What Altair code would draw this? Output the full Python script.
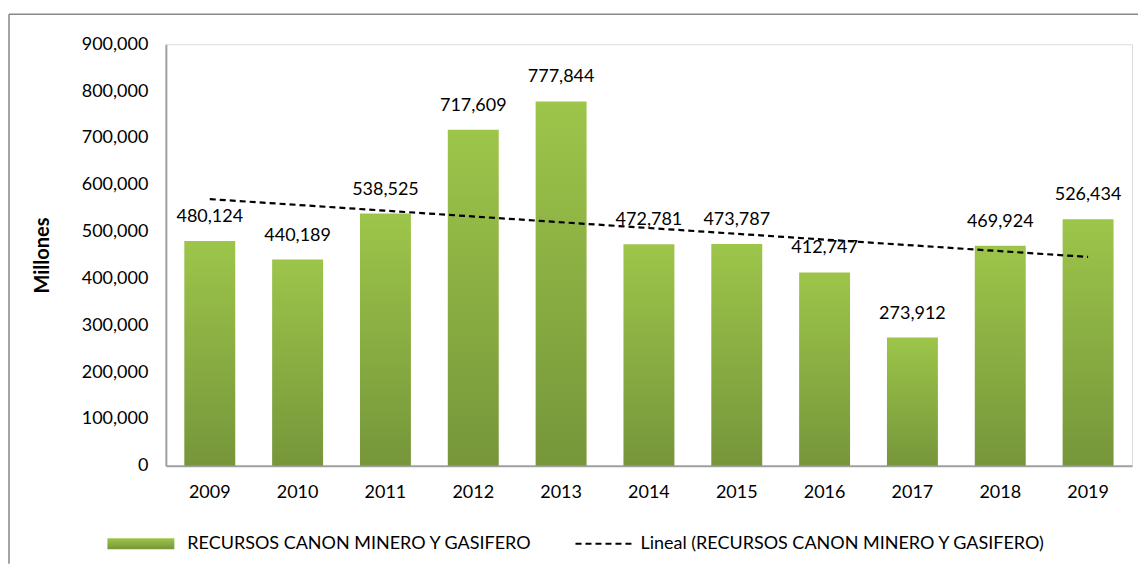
import altair as alt
import pandas as pd

years = ["2009", "2010", "2011", "2012", "2013", "2014", "2015", "2016", "2017", "2018", "2019"]
values = [480124, 440189, 538525, 717609, 777844, 472781, 473787, 412747, 273912, 469924, 526434]
bar_series = "RECURSOS CANON MINERO Y GASIFERO"
trend_series = "Lineal (RECURSOS CANON MINERO Y GASIFERO)"
y_title = "Millones"
y_ticks = [0, 100000, 200000, 300000, 400000, 500000, 600000, 700000, 800000, 900000]

df = pd.DataFrame({"year": years, "value": values, "series": bar_series})

FONT = "Lato"
gradient = {
    "gradient": "linear", "x1": 0, "y1": 0, "x2": 0, "y2": 1,
    "stops": [{"offset": 0, "color": "#9DC54A"}, {"offset": 1, "color": "#76963A"}],
}

x_enc = alt.X("year:N", sort=years, scale=alt.Scale(domain=years, paddingInner=0.42, paddingOuter=0.21),
              axis=alt.Axis(title=None, labelAngle=0, ticks=False, labelPadding=18, labelFontSize=18,
                            labelFont=FONT, labelColor="black", domainColor="#A0A0A0", domainWidth=2))
y_enc = alt.Y("value:Q", scale=alt.Scale(domain=[0, 900000]),
              axis=alt.Axis(title=y_title, format=",.0f", values=y_ticks, grid=False,
                            ticks=False, labelPadding=18, labelFontSize=18, labelFont=FONT, labelColor="black",
                            domainColor="#A0A0A0", domainWidth=2, titleFont=FONT, titleFontSize=20,
                            titleFontWeight="bold", titleColor="black", titleX=-123, titleY=211,
                            titleAngle=-90, titleAlign="center", titleBaseline="middle"))

bars = alt.Chart(df).mark_bar(color=gradient).encode(
    x=x_enc,
    y=y_enc,
    opacity=alt.Opacity("series:N", scale=alt.Scale(range=[1]),
                        legend=alt.Legend(title=None, orient="none", legendX=-34, legendY=491, padding=0,
                                          symbolType="M-6.7,-1.1H6.7V1.1H-6.7Z", symbolSize=100,
                                          labelOffset=37.5, labelFontSize=18, labelFont=FONT,
                                          labelColor="black", symbolStrokeWidth=0, labelLimit=0,
                                          symbolFillColor="#8BB143", symbolOpacity=1)),
)

labels = alt.Chart(df).mark_text(fontSize=18, font=FONT, color="black", baseline="middle", dy=-24).encode(
    x=x_enc,
    y=y_enc,
    text=alt.Text("value:Q", format=","),
)

trend = alt.Chart(df).transform_calculate(
    yr="toNumber(datum.year)"
).transform_regression(
    "yr", "value", method="linear"
).transform_calculate(
    year="toString(datum.yr)", series=f"'{trend_series}'"
).mark_line(color="black", strokeWidth=2.2).encode(
    x=x_enc,
    y=y_enc,
    strokeDash=alt.StrokeDash("series:N", scale=alt.Scale(range=[[6, 4]]),
                              legend=alt.Legend(title=None, orient="none", legendX=429, legendY=491, padding=0,
                                                symbolType="M-5.6,0H5.6", symbolSize=100,
                                                symbolStrokeColor="black", symbolStrokeWidth=2,
                                                labelOffset=28, labelFontSize=18, labelFont=FONT,
                                                labelColor="black", labelLimit=0)),
)

frame_data = alt.Data(values=[{"k": 1}])
frame_top = alt.Chart(frame_data).mark_rule(color="#878787", strokeWidth=1.5).encode(
    x=alt.value(-157), x2=alt.value(973), y=alt.value(-30))
frame_left = alt.Chart(frame_data).mark_rule(color="#878787", strokeWidth=1.5).encode(
    x=alt.value(-157), y=alt.value(-30), y2=alt.value(520))

chart = alt.layer(bars, labels, trend, frame_top, frame_left).resolve_legend(
    opacity="independent", strokeDash="independent"
).properties(
    width=967, height=422, padding={"left": 0, "top": 5, "right": 0, "bottom": 0}
).configure_view(stroke=None).configure(background="white")

chart.save("out.html", embed_options={"renderer": "svg", "actions": False})
